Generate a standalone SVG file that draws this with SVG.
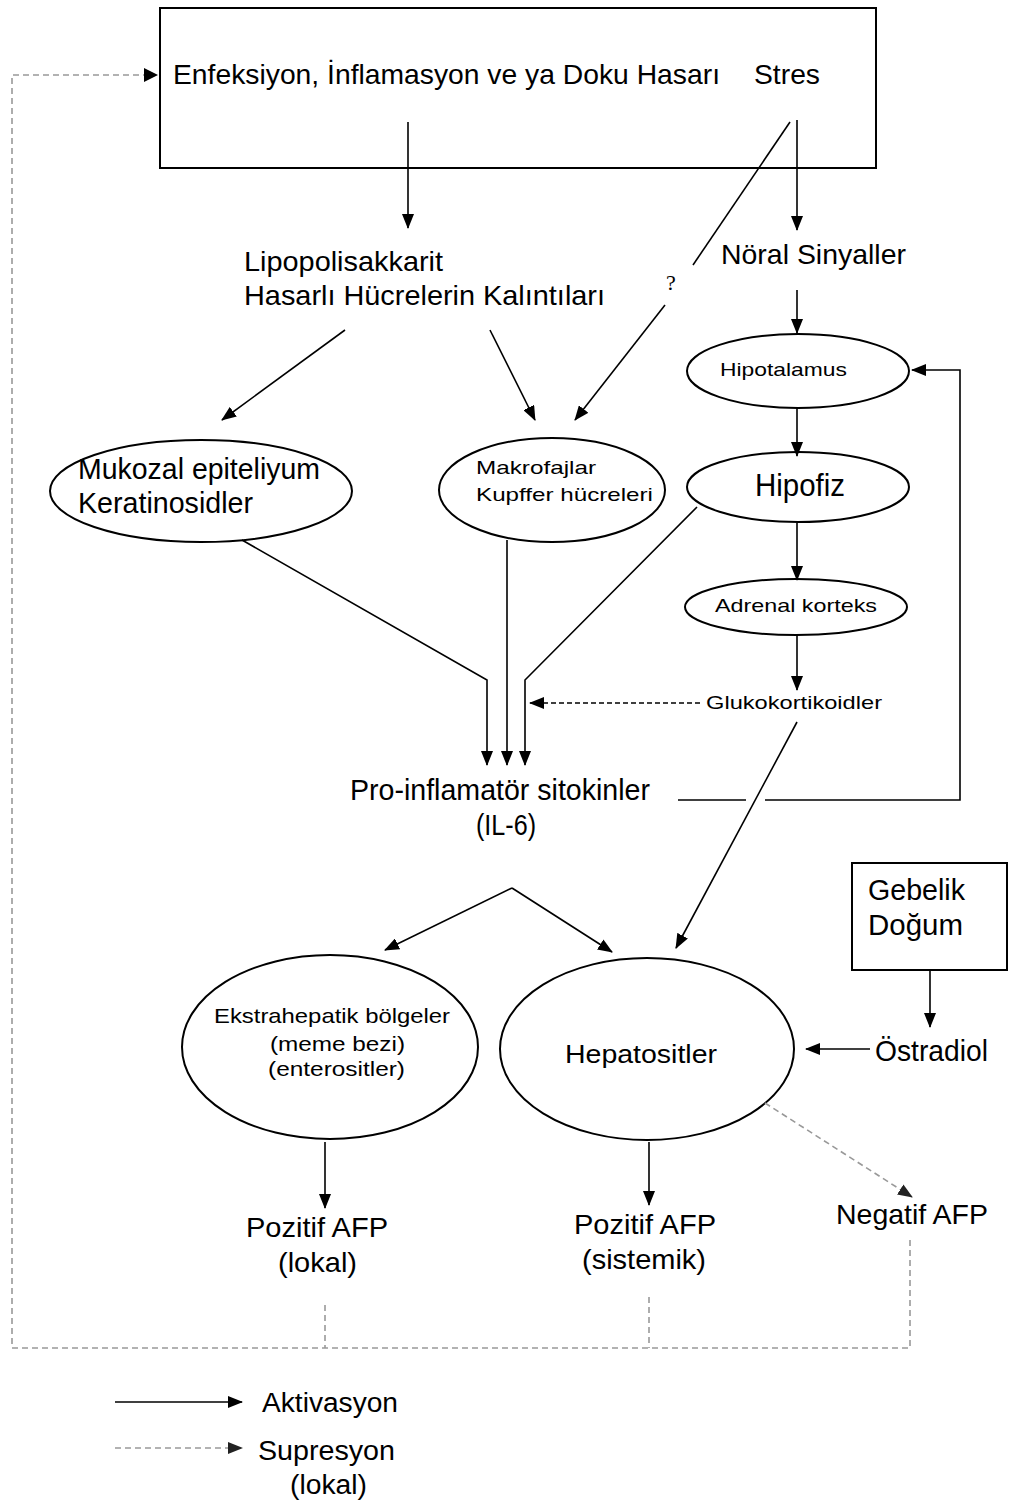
<svg xmlns="http://www.w3.org/2000/svg" width="1014" height="1504" viewBox="0 0 1014 1504">
<style>
text{font-family:"Liberation Sans",Arial,sans-serif;fill:#000}
.n{fill:#fff;stroke:#000;stroke-width:2}
.c{fill:none;stroke:#000;stroke-width:1.6}
.d{fill:none;stroke:#000;stroke-width:1.4;stroke-dasharray:5,3}
.g{fill:none;stroke:#999;stroke-width:1.6;stroke-dasharray:6,4}
</style>
<defs>
<marker id="a" markerWidth="15" markerHeight="12" refX="14" refY="6" orient="auto" markerUnits="userSpaceOnUse"><path d="M0,0L15,6L0,12z" fill="#000"/></marker>
<marker id="ag" markerWidth="15" markerHeight="12" refX="14" refY="6" orient="auto" markerUnits="userSpaceOnUse"><path d="M0,0L15,6L0,12z" fill="#222"/></marker>
</defs>
<rect width="1014" height="1504" fill="#fff"/>

<g id="top">
<rect class="n" x="160" y="8" width="716" height="160"/>
<text x="173" y="84" font-size="28" textLength="547" lengthAdjust="spacingAndGlyphs">Enfeksiyon, İnflamasyon ve ya Doku Hasarı</text>
<text x="754" y="84" font-size="28" textLength="66" lengthAdjust="spacingAndGlyphs">Stres</text>
</g>
<g id="lps">
<text x="244" y="271" font-size="28" textLength="199" lengthAdjust="spacingAndGlyphs">Lipopolisakkarit</text>
<text x="244" y="305" font-size="28" textLength="361" lengthAdjust="spacingAndGlyphs">Hasarlı Hücrelerin Kalıntıları</text>
</g>
<g id="noral"><text x="721" y="264" font-size="28" textLength="185" lengthAdjust="spacingAndGlyphs">Nöral Sinyaller</text></g>
<g id="q"><text x="666" y="290" font-size="22" style="font-family:'Liberation Serif',serif">?</text></g>
<g id="hipotalamus"><ellipse class="n" cx="798" cy="371" rx="111" ry="37"/><text x="720" y="376" font-size="19" textLength="127" lengthAdjust="spacingAndGlyphs">Hipotalamus</text></g>
<g id="hipofiz"><ellipse class="n" cx="798" cy="487" rx="111" ry="35"/><text x="755" y="496" font-size="32" textLength="90" lengthAdjust="spacingAndGlyphs">Hipofiz</text></g>
<g id="adrenal"><ellipse class="n" cx="796" cy="607" rx="111" ry="28"/><text x="715" y="612" font-size="19" textLength="162" lengthAdjust="spacingAndGlyphs">Adrenal korteks</text></g>
<g id="gluko"><text x="706" y="709" font-size="19" textLength="176" lengthAdjust="spacingAndGlyphs">Glukokortikoidler</text></g>
<g id="mukozal"><ellipse class="n" cx="201" cy="491" rx="151" ry="51"/>
<text x="78" y="479" font-size="30" textLength="242" lengthAdjust="spacingAndGlyphs">Mukozal epiteliyum</text>
<text x="78" y="513" font-size="30" textLength="175" lengthAdjust="spacingAndGlyphs">Keratinosidler</text></g>
<g id="makrofaj"><ellipse class="n" cx="552" cy="490" rx="113" ry="52"/>
<text x="476" y="474" font-size="19" textLength="120" lengthAdjust="spacingAndGlyphs">Makrofajlar</text>
<text x="476" y="501" font-size="19" textLength="177" lengthAdjust="spacingAndGlyphs">Kupffer hücreleri</text></g>
<g id="proinf">
<text x="350" y="800" font-size="29" textLength="300" lengthAdjust="spacingAndGlyphs">Pro-inflamatör sitokinler</text>
<text x="476" y="835" font-size="29" textLength="60" lengthAdjust="spacingAndGlyphs">(IL-6)</text></g>
<g id="gebelik"><rect class="n" x="852" y="863" width="155" height="107"/>
<text x="868" y="900" font-size="29" textLength="97" lengthAdjust="spacingAndGlyphs">Gebelik</text><text x="868" y="935" font-size="29" textLength="95" lengthAdjust="spacingAndGlyphs">Doğum</text></g>
<g id="ostradiol"><text x="875" y="1061" font-size="29" textLength="113" lengthAdjust="spacingAndGlyphs">Östradiol</text></g>
<g id="ekstra"><ellipse class="n" cx="330" cy="1047" rx="148" ry="92"/>
<text x="214" y="1023" font-size="21" textLength="236" lengthAdjust="spacingAndGlyphs">Ekstrahepatik bölgeler</text>
<text x="270" y="1051" font-size="21" textLength="135" lengthAdjust="spacingAndGlyphs">(meme bezi)</text>
<text x="268" y="1076" font-size="21" textLength="137" lengthAdjust="spacingAndGlyphs">(enterositler)</text></g>
<g id="hepato"><ellipse class="n" cx="647" cy="1049" rx="147" ry="91"/>
<text x="565" y="1063" font-size="26" textLength="152" lengthAdjust="spacingAndGlyphs">Hepatositler</text></g>
<g id="poz1"><text x="246" y="1237" font-size="28" textLength="142" lengthAdjust="spacingAndGlyphs">Pozitif AFP</text><text x="278" y="1272" font-size="28" textLength="79" lengthAdjust="spacingAndGlyphs">(lokal)</text></g>
<g id="poz2"><text x="574" y="1234" font-size="28" textLength="142" lengthAdjust="spacingAndGlyphs">Pozitif AFP</text><text x="582" y="1269" font-size="28" textLength="124" lengthAdjust="spacingAndGlyphs">(sistemik)</text></g>
<g id="neg"><text x="836" y="1224" font-size="28" textLength="152" lengthAdjust="spacingAndGlyphs">Negatif AFP</text></g>

<g id="connectors">
<path class="c" d="M408,122V228" marker-end="url(#a)"/>
<path class="c" d="M797,120V230" marker-end="url(#a)"/>
<path class="c" d="M790,122L693,265"/>
<path class="c" d="M665,305L575,420" marker-end="url(#a)"/>
<path class="c" d="M797,290V333" marker-end="url(#a)"/>
<path class="c" d="M345,330L222,420" marker-end="url(#a)"/>
<path class="c" d="M490,330L535,420" marker-end="url(#a)"/>
<path class="c" d="M797,408V456" marker-end="url(#a)"/>
<path class="c" d="M797,523V580" marker-end="url(#a)"/>
<path class="c" d="M797,636V690" marker-end="url(#a)"/>
<path class="d" d="M700,703H530" marker-end="url(#a)"/>
<path class="c" d="M797,722L676,948" marker-end="url(#a)"/>
<path class="c" d="M242,540L487,680V765" marker-end="url(#a)"/>
<path class="c" d="M507,540V765" marker-end="url(#a)"/>
<path class="c" d="M697,507L525,680V765" marker-end="url(#a)"/>
<path class="c" d="M678,800H746"/>
<path class="c" d="M765,800H960V370H912" marker-end="url(#a)"/>
<path class="c" d="M512,888L385,950" marker-end="url(#a)"/>
<path class="c" d="M512,888L612,952" marker-end="url(#a)"/>
<path class="c" d="M930,970V1027" marker-end="url(#a)"/>
<path class="c" d="M870,1049H806" marker-end="url(#a)"/>
<path class="c" d="M325,1142V1208" marker-end="url(#a)"/>
<path class="c" d="M649,1142V1205" marker-end="url(#a)"/>
<path class="g" d="M765,1103L912,1197" marker-end="url(#ag)"/>
<path class="g" d="M325,1305V1348M649,1297V1348M910,1240V1348H12V75H150"/>
<path d="M144,68L158,75L144,82z" fill="#000"/>
</g>

<g id="legend">
<path class="c" d="M115,1402H242" marker-end="url(#a)"/>
<text x="262" y="1412" font-size="27" textLength="136" lengthAdjust="spacingAndGlyphs">Aktivasyon</text>
<path class="g" d="M115,1448H242" marker-end="url(#ag)"/>
<text x="258" y="1460" font-size="27" textLength="137" lengthAdjust="spacingAndGlyphs">Supresyon</text>
<text x="290" y="1494" font-size="27" textLength="77" lengthAdjust="spacingAndGlyphs">(lokal)</text>
</g>
</svg>
